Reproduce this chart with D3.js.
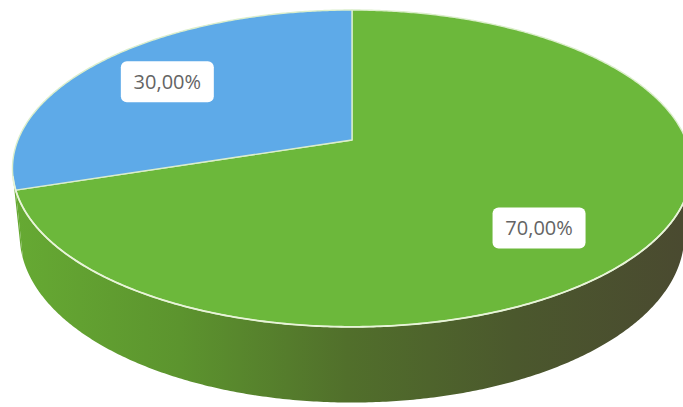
<!DOCTYPE html>
<html>
<head>
<meta charset="utf-8">
<script src="https://cdn.jsdelivr.net/npm/d3@7"></script>
<style>
  html, body { margin: 0; padding: 0; background: #ffffff; }
  svg { display: block; }
</style>
</head>
<body>
<svg id="chart" width="683" height="407"></svg>
<script>
// ---- data ----
const categories = ["Série A", "Série B"];
const values = [70, 30];
const labels = ["70,00%", "30,00%"];

// ---- styling / layout ----
const W = 683, H = 407;
const topColors = ["#6cb83b", "#5eaae8"];
const cx = 352, cy = 140;          // screen position of disc centre
const S = 334;                     // scale (radius in px at the centre depth)
const sinP = 0.459, cosP = Math.sqrt(1 - sinP * sinP);
const Dist = 4.95;                 // camera distance in radius units
const thick = 0.228;               // disc thickness in radius units
const labelPlace = [ {r: 0.727, shift: 9.7}, {r: 0.72, shift: -1.5} ];

// perspective projection of a disc point (angle clockwise from far point, radius r, height w)
function proj(theta, r, w) {
  const u = r * Math.sin(theta), v = r * Math.cos(theta);
  const depth = Dist + v * cosP - w * sinP;
  const up = v * sinP + w * cosP;
  return [cx + S * u * Dist / depth, cy - S * up * Dist / depth];
}

const svg = d3.select("#chart");
const defs = svg.append("defs");
const grad = defs.append("linearGradient")
  .attr("id", "sideGreen").attr("gradientUnits", "userSpaceOnUse")
  .attr("x1", 12).attr("y1", 0).attr("x2", 683).attr("y2", 0);
[[0, "#66aa33"], [0.25, "#5c942e"], [0.5, "#516f2b"], [0.75, "#4b582d"], [1, "#4a4a30"]]
  .forEach(([o, c]) => grad.append("stop").attr("offset", o).attr("stop-color", c));

const pie = d3.pie().sort(null).startAngle(0).endAngle(2 * Math.PI);
const arcs = pie(values);
const line = d3.line();
const step = Math.PI / 360;

function sample(a0, a1, r, w) {
  const pts = [];
  const n = Math.max(2, Math.ceil((a1 - a0) / step));
  for (let i = 0; i <= n; i++) pts.push(proj(a0 + (a1 - a0) * i / n, r, w));
  return pts;
}

// visible range of outer wall
const thVis = Math.acos(-1 / (Dist * cosP));
const visA = thVis, visB = 2 * Math.PI - thVis;

// walls (front wall shaded left-to-right)
arcs.forEach((a, i) => {
  const a0 = Math.max(a.startAngle, visA), a1 = Math.min(a.endAngle, visB);
  if (a1 <= a0) return;
  const topPts = sample(a0, a1, 1, 0);
  const botPts = sample(a0, a1, 1, -thick).reverse();
  svg.append("path")
    .attr("d", line(topPts.concat(botPts)) + "Z")
    .attr("fill", "url(#sideGreen)");
});

// tops
arcs.forEach((a, i) => {
  const pts = [proj(0, 0, 0)].concat(sample(a.startAngle, a.endAngle, 1, 0));
  svg.append("path")
    .attr("d", line(pts) + "Z")
    .attr("fill", topColors[i])
    .attr("stroke", "#dbeecb")
    .attr("stroke-width", 1.4)
    .attr("stroke-linejoin", "round");
});

// rim highlight on the front edge
svg.append("path")
  .attr("d", line(sample(visA, visB, 1, 0)))
  .attr("fill", "none")
  .attr("stroke", "#e8f4d8")
  .attr("stroke-width", 1.8);

// labels
arcs.forEach((a, i) => {
  const mid = (a.startAngle + a.endAngle) / 2 + labelPlace[i].shift * Math.PI / 180;
  const [lx, ly] = proj(mid, labelPlace[i].r, 0);
  const g = svg.append("g").attr("transform", `translate(${lx},${ly})`);
  g.append("rect")
    .attr("x", -46.5).attr("y", -20.5).attr("width", 93).attr("height", 41)
    .attr("rx", 6).attr("fill", "#ffffff");
  g.append("text")
    .attr("text-anchor", "middle").attr("dy", "0.36em")
    .attr("font-family", "'Open Sans', sans-serif").attr("font-size", 20)
    .attr("fill", "#646464")
    .text(labels[i]);
});
</script>
</body>
</html>
